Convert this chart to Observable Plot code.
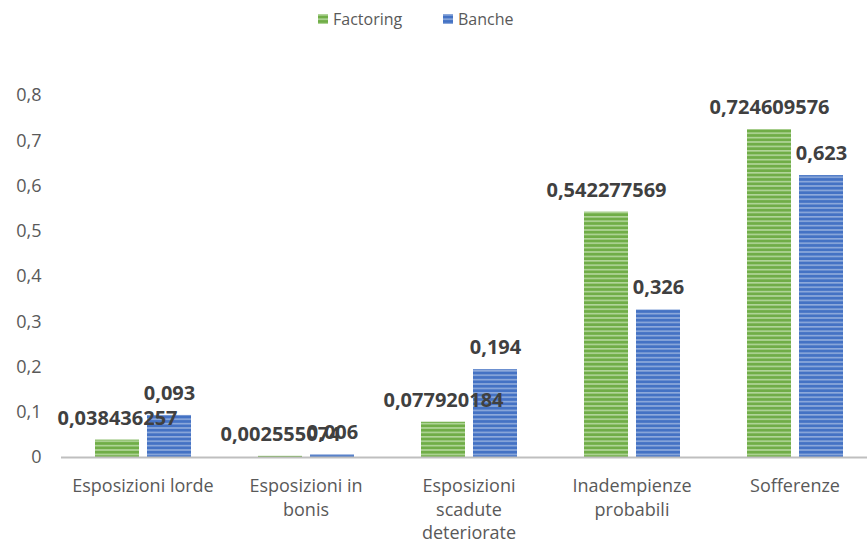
<!DOCTYPE html>
<html>
<head>
<meta charset="utf-8">
<script src="https://cdn.jsdelivr.net/npm/d3@7"></script>
<script src="https://cdn.jsdelivr.net/npm/@observablehq/plot@0.6"></script>
<style>
  html, body { margin: 0; padding: 0; background: #fff; overflow: hidden; }
  #legend { position: relative; height: 40px; font-family: "Open Sans", sans-serif; font-size: 16px; color: #595959; }
  .item { position: absolute; top: 7px; display: flex; align-items: center; gap: 5px; line-height: 24px; }
  .sw { width: 10px; height: 10px; display: inline-block; }
</style>
</head>
<body>
<svg width="0" height="0" style="position:absolute">
  <defs>
    <pattern id="stripeG" patternUnits="userSpaceOnUse" width="10" height="4.4">
      <rect width="10" height="4.4" fill="#70ad47"/>
      <rect y="0" width="10" height="1.6" fill="#b2d69a"/>
    </pattern>
    <pattern id="stripeB" patternUnits="userSpaceOnUse" width="10" height="4.4">
      <rect width="10" height="4.4" fill="#4472c4"/>
      <rect y="0" width="10" height="1.6" fill="#8eaadb"/>
    </pattern>
  </defs>
</svg>
<div id="legend"></div>
<div id="chart"></div>
<script>
const categories = ["Esposizioni lorde", "Esposizioni in bonis", "Esposizioni scadute deteriorate", "Inadempienze probabili", "Sofferenze"];
const categoryLabels = ["Esposizioni lorde", "Esposizioni in\nbonis", "Esposizioni\nscadute\ndeteriorate", "Inadempienze\nprobabili", "Sofferenze"];
const series = ["Factoring", "Banche"];
const factoring = [0.038436257, 0.002555074, 0.077920184, 0.542277569, 0.724609576];
const banche = [0.093, 0.006, 0.194, 0.326, 0.623];
const yTicks = [0, 0.1, 0.2, 0.3, 0.4, 0.5, 0.6, 0.7, 0.8];
const patterns = ["url(#stripeG)", "url(#stripeB)"];

const data = categories.flatMap((c, i) => [
  {category: c, series: "Factoring", value: factoring[i]},
  {category: c, series: "Banche", value: banche[i]}
]);

const fmt = v => String(v).replace(".", ",");

// legend
const legend = document.getElementById("legend");
const legendLeft = [318, 443];
series.forEach((s, i) => {
  const it = document.createElement("div");
  it.className = "item";
  it.style.left = legendLeft[i] + "px";
  it.innerHTML = `<svg class="sw" width="10" height="10"><rect width="10" height="10" fill="${patterns[i]}"/></svg><span>${s}</span>`;
  legend.appendChild(it);
});

const chart = Plot.plot({
  width: 867,
  height: 506,
  marginTop: 55,
  marginBottom: 89,
  marginLeft: 58,
  marginRight: 0,
  fx: {domain: categories, range: [58.5, 878], padding: 0, label: null},
  x: {domain: series, paddingInner: 0.16, paddingOuter: 0.64, axis: null},
  y: {domain: [0, 0.8], axis: null},
  color: {domain: series, range: patterns},
  style: {fontFamily: "Open Sans, sans-serif", color: "#595959", background: "white", overflow: "visible"},
  marks: [
    Plot.barY(data, {fx: "category", x: "series", y: "value", fill: "series"}),
    Plot.ruleY([0], {stroke: "#bfbfbf", strokeWidth: 2}),
    Plot.text(data, {fx: "category", x: "series", y: "value", text: d => fmt(d.value), dy: -22, fontWeight: "bold", fontSize: 20, fill: "#404040"}),
    Plot.axisY({ticks: yTicks, tickSize: 0, tickPadding: 20, tickFormat: d => d === 0 ? "0" : fmt(d), fontSize: 18, label: null}),
    Plot.axisFx({anchor: "bottom", tickSize: 0, tickPadding: 18, tickFormat: d => categoryLabels[categories.indexOf(d)], fontSize: 18, lineHeight: 1.3, label: null})
  ]
});
document.getElementById("chart").appendChild(chart);
</script>
</body>
</html>
